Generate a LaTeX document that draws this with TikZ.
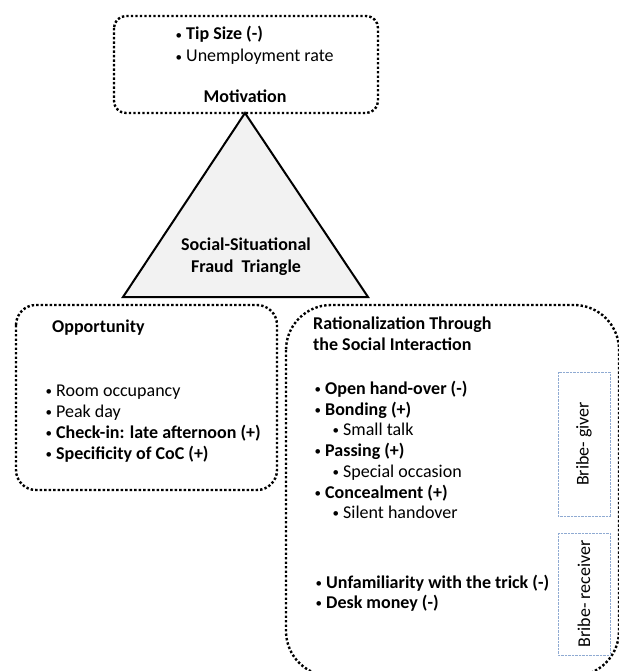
\documentclass[tikz,border=0pt]{standalone}
\usepackage{fontspec}
\setmainfont{Carlito}
\definecolor{bribeblue}{RGB}{143,170,210}
\definecolor{trifill}{RGB}{242,242,242}
\newcommand\bl[1]{\makebox[11pt][l]{\hspace{0.5pt}\raisebox{0.8pt}{\mdseries\fontsize{13}{13}\selectfont •}}#1}
\begin{document}
\begin{tikzpicture}[x=1pt,y=-1pt,
  every node/.style={inner sep=0pt,font=\fontsize{18}{21}\selectfont},
  txt/.style={anchor=base west},
  bold/.style={anchor=base west,font=\fontsize{18}{21}\selectfont\bfseries},
  dotbox/.style={line width=2.4pt,dash pattern=on 2.4pt off 2.1pt,rounded corners=#1},
  dotbox/.default=12pt,
  bribebox/.style={draw=bribeblue,line width=0.8pt,dash pattern=on 0.8pt off 0.6pt},
  tri/.style={draw=black,line width=2pt,fill=trifill,line join=miter}]
\useasboundingbox (0,0) rectangle (618,671);
% boxes
\draw[dotbox=12pt] (114,16) rectangle (378,113);
\draw[dotbox=20pt] (16,305) rectangle (277,490);
\draw[dotbox=45pt] (286,305) rectangle (619,676);
% triangle
\draw[tri] (245,113) -- (123,297) -- (368,297) -- cycle;
\node[bold,anchor=base] (tri1) at (246,250) {Social-Situational};
\node[bold,anchor=base] (tri2) at (246,272) {Fraud\ \ Triangle};
% motivation
\node[txt] (tip) at (175,40) {\bl{\textbf{Tip Size (-)}}};
\node[txt] (unemp) at (175,62) {\bl{Unemployment rate}};
\node[bold,anchor=base] (motiv) at (245,103) {Motivation};
% opportunity
\node[bold] (opp) at (52,332) {Opportunity};
\node[txt] (o1) at (45,396) {\bl{Room occupancy}};
\node[txt] (o2) at (45,417) {\bl{Peak day}};
\node[txt] (o3) at (45,438) {\bl{\textbf{Check-in: late afternoon (+)}}};
\node[txt] (o4) at (45,459) {\bl{\textbf{Specificity of CoC (+)}}};
% rationalization
\node[bold] (rat1) at (313,329) {Rationalization Through};
\node[bold] (rat2) at (313,350) {the Social Interaction};
\node[txt] (r1) at (314,394) {\bl{\textbf{Open hand-over (-)}}};
\node[txt] (r2) at (314,415) {\bl{\textbf{Bonding (+)}}};
\node[txt] (r2a) at (332,435) {\bl{Small talk}};
\node[txt] (r3) at (314,456) {\bl{\textbf{Passing (+)}}};
\node[txt] (r3a) at (332,477) {\bl{Special occasion}};
\node[txt] (r4) at (314,498) {\bl{\textbf{Concealment (+)}}};
\node[txt] (r4a) at (332,518) {\bl{Silent handover}};
\node[txt] (r5) at (315,588) {\bl{\textbf{Unfamiliarity with the trick (-)}}};
\node[txt] (r6) at (315,608) {\bl{\textbf{Desk money (-)}}};
% bribe boxes
\draw[bribebox] (558,372) rectangle (610,516);
\node[rotate=90] (giver) at (584,444) {Bribe- giver};
\draw[bribebox] (558,533) rectangle (610,655);
\node[rotate=90] (receiver) at (584,594) {Bribe- receiver};
\end{tikzpicture}
\end{document}
